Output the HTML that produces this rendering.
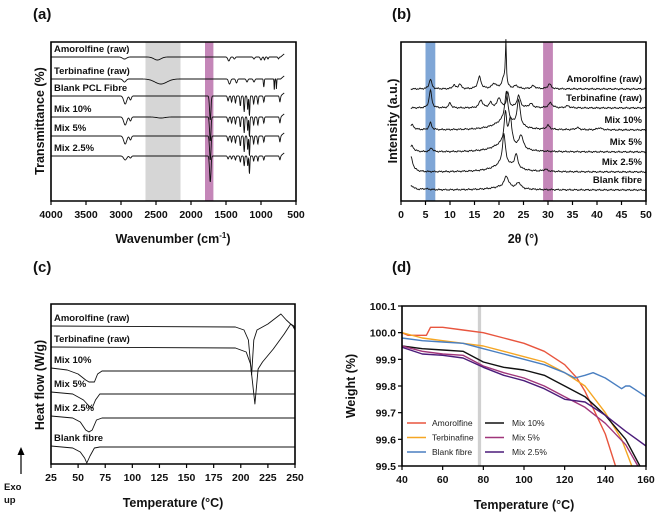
<!DOCTYPE html>
<html><head><meta charset="utf-8"><style>
body{margin:0;background:#fff}
svg{display:block;font-family:"Liberation Sans",Arial,sans-serif}
.t{font-weight:bold;fill:#111}
</style></head><body>
<svg id="fig" width="659" height="516" viewBox="0 0 659 516"></svg>
<script>
// ---------- Panel (a) FTIR data ----------
const ftirNames=["Amorolfine (raw)","Terbinafine (raw)","Blank PCL Fibre","Mix 10%","Mix 5%","Mix 2.5%"];
const ftirOffsets=[144,122,105,84,65,45];
const ftirXTicks=[4000,3500,3000,2500,2000,1500,1000,500];
const pclPeaks=[[2940,8,30],[2865,4,18],[1725,24,14],[1470,5,12],[1420,6,10],[1365,7,10],[1295,10,10],[1240,16,9],[1190,14,8],[1165,20,8],[1105,8,10],[1045,8,10],[960,6,10],[730,6,10]];
const ftirPeaks=[
 [[2950,2,40],[2480,3,70],[1460,4,20],[1380,2,15],[1100,2,15],[1000,3,15],[950,3,10],[900,2,10],[750,2,10]],
 [[2950,3,30],[2430,5,120],[1450,5,20],[1350,4,15],[1200,3,15],[1100,3,15],[960,8,8],[810,12,5],[780,10,5]],
 pclPeaks,
 pclPeaks.concat([[2430,1,80]]),
 pclPeaks,
 [[2940,4,30],[2865,2,18],[1725,26,14],[1470,3,12],[1420,3,10],[1365,4,10],[1295,6,10],[1240,10,9],[1190,10,8],[1165,18,8],[1105,5,10],[1045,5,10],[960,4,10],[730,4,10]]
];
// ---------- Panel (b) XRD data ----------
const xrdNames=["Amorolfine (raw)","Terbinafine (raw)","Mix 10%","Mix 5%","Mix 2.5%","Blank fibre"];
const xrdOffsets=[112,93,71,49,29,11];
const xrdXTicks=[0,5,10,15,20,25,30,35,40,45,50];
const xrdPeaks=[
 [[6,10,0.3],[10.8,4,0.3],[12,5,0.3],[16,12,0.4],[19,5,0.5],[21,10,0.5],[21.4,44,0.12],[23.5,3,0.5],[27,3,0.5],[30.3,5,0.4]],
 [[6,18,0.3],[10,5,0.3],[16.3,8,0.4],[18.3,5,0.4],[20,10,0.4],[21.8,15,0.3],[24,12,0.4],[26.5,4,0.5],[30.5,5,0.5],[34,2,0.5]],
 [[2.2,5,0.5],[6,7,0.3],[21.5,30,0.4],[21,8,2.5],[24,26,0.4],[30,4,0.4],[36,2,0.5],[40.5,2,0.5]],
 [[2.2,6,0.5],[6.2,4,0.3],[21.3,30,0.3],[22.3,26,0.4],[21,8,2.5],[24.5,14,0.5]],
 [[2,15,0.5],[21,30,0.35],[21,8,2.5],[23.5,14,0.4],[29.5,2,0.5]],
 [[2.2,4,0.5],[5,1,1],[21.5,11,0.5],[21,3,3],[24,6,0.5]]
];
// ---------- Panel (c) DSC data ----------
const dscNames=["Amorolfine (raw)","Terbinafine (raw)","Mix 10%","Mix 5%","Mix 2.5%","Blank fibre"];
const dscXTicks=[25,50,75,100,125,150,175,200,225,250];
const dscT=[
 [25,195,203,207,210,212,215,225,237,242,248,250],
 [25,195,205,209,213,216,220,230,240,246,249,250],
 [25,40,50,57,60,65,68,72,250],
 [25,45,55,60,63,66,70,250],
 [25,45,52,57,60,63,67,72,250],
 [25,45,52,56,58,61,65,70,250]
];
const dscH=[
 [138,137,134,124,89,124,134,140,150,144,138,134],
 [117,116,112,100,60,95,102,115,130,140,138,134],
 [96,94,90,84,82,82,90,93,93],
 [72,70,64,58,56,64,70,70],
 [48,46,42,34,32,34,44,46,46],
 [18,16,12,6,1,8,16,17,17]
];
// ---------- Panel (d) TGA data ----------
const tgaNames=["Amorolfine","Terbinafine","Blank fibre","Mix 10%","Mix 5%","Mix 2.5%"];
const tgaColors=["#e8553e","#f5a623","#4a7fc1","#111111","#a0357a","#4b1c7a"];
const tgaYTicks=[99.5,99.6,99.7,99.8,99.9,100.0,100.1];
const tgaXTicks=[40,60,80,100,120,140,160];
const tgaT=[
 [40,43,52,54,60,70,80,90,100,110,120,126,130,135,140,145],
 [40,50,60,70,80,90,100,110,120,130,140,148,153],
 [40,50,60,70,80,90,100,110,120,125,130,134,140,148,150,152,156,160],
 [40,50,60,70,80,90,100,110,120,130,140,150,157],
 [40,50,60,70,80,90,100,110,120,130,140,150,156],
 [40,50,60,70,80,90,100,110,120,130,140,150,160]
];
const tgaW=[
 [100.0,99.99,99.99,100.02,100.02,100.01,100.0,99.98,99.96,99.93,99.88,99.83,99.78,99.70,99.62,99.5],
 [100.0,99.98,99.97,99.96,99.95,99.93,99.91,99.89,99.85,99.80,99.70,99.6,99.5],
 [99.98,99.97,99.965,99.96,99.94,99.92,99.90,99.88,99.85,99.83,99.84,99.85,99.83,99.79,99.80,99.80,99.78,99.76],
 [99.95,99.94,99.935,99.93,99.89,99.87,99.86,99.84,99.80,99.76,99.69,99.60,99.5],
 [99.95,99.93,99.92,99.915,99.875,99.85,99.83,99.80,99.76,99.72,99.66,99.58,99.5],
 [99.945,99.92,99.915,99.905,99.87,99.84,99.82,99.79,99.75,99.74,99.69,99.63,99.575]
];

const NS="http://www.w3.org/2000/svg";
const svg=document.getElementById('fig');
function el(tag,attrs,parent,txt){const e=document.createElementNS(NS,tag);for(const k in attrs)e.setAttribute(k,attrs[k]);if(txt!==undefined)e.textContent=txt;(parent||svg).appendChild(e);return e;}
function lin(d0,d1,r0,r1){return v=>r0+(v-d0)*(r1-r0)/(d1-d0);}
function frame(g,x0,y0,x1,y1){
 el('path',{d:`M${x0},${y0}H${x1}V${y1}H${x0}Z`,fill:'none',stroke:'#000','stroke-width':1.6},g);
}
function xTicks(g,ticks,sx,y1,name){
 ticks.forEach(t=>{
  const x=sx(t);
  el('line',{x1:x,x2:x,y1:y1,y2:y1+4,stroke:'#000','stroke-width':1.2},g);
  const tx=el('text',{x:x,y:y1+17,'text-anchor':'middle','font-size':10.5,class:'t'},g,t);
  
  
 });
}

// ===== Panel A =====
{
const g=el('g',{});
const X0=51,X1=296,Y0=42,Y1=201;
const sx=lin(4000,500,X0,X1), sy=lin(0,159,Y1,Y0);
el('rect',{x:sx(2650),y:Y0,width:sx(2150)-sx(2650),height:Y1-Y0,fill:'#d6d6d6'},g);
el('rect',{x:sx(1800),y:Y0,width:sx(1680)-sx(1800),height:Y1-Y0,fill:'#c486b8'},g);
ftirNames.forEach((n,i)=>{
 let d='';
 for(let w=4000;w>=665;w-=4){
  let v=ftirOffsets[i];
  ftirPeaks[i].forEach(p=>{v-=p[1]*Math.exp(-Math.pow((w-p[0])/p[2],2));});
  if(w<720)v+= (720-w)*0.06;
  d+=(w===4000?'M':'L')+sx(w).toFixed(1)+','+sy(v).toFixed(1);
 }
 const p=el('path',{d:d,fill:'none',stroke:'#111','stroke-width':0.9},g);
 
 
 const t=el('text',{x:54,y:sy(ftirOffsets[i])-5,'font-size':9.5,class:'t'},g,n);
 
 
});
frame(g,X0,Y0,X1,Y1);
xTicks(g,ftirXTicks,sx,Y1,'ftir-x');
el('text',{x:173,y:243,'text-anchor':'middle','font-size':12.5,class:'t',},g).innerHTML='Wavenumber (cm<tspan dy="-5" font-size="8">-1</tspan><tspan dy="5">)</tspan>';
el('text',{transform:'translate(44,121) rotate(-90)','text-anchor':'middle','font-size':12.5,class:'t',},g,'Transmittance (%)');
el('text',{x:33,y:19,'font-size':15,class:'t',},g,'(a)');
}

// ===== Panel B =====
{
const g=el('g',{});
const X0=401,X1=646,Y0=42,Y1=201;
const sx=lin(0,50,X0,X1), sy=lin(0,159,Y1,Y0);
el('rect',{x:sx(5),y:Y0,width:sx(7)-sx(5),height:Y1-Y0,fill:'#7fa6d6'},g);
el('rect',{x:sx(29),y:Y0,width:sx(31)-sx(29),height:Y1-Y0,fill:'#c486b8'},g);
xrdNames.forEach((n,i)=>{
 let d='';
 for(let a=2;a<=50.001;a+=0.1){
  let v=xrdOffsets[i];
  xrdPeaks[i].forEach(p=>{v+=p[1]/(1+Math.pow((a-p[0])/p[2],2));});
  v+=0.8*Math.sin(a*9.3+i)*Math.cos(a*4.1);
  d+=(a===2?'M':'L')+sx(a).toFixed(1)+','+sy(v).toFixed(1);
 }
 const p=el('path',{d:d,fill:'none',stroke:'#111','stroke-width':0.9},g);
 
 
 const t=el('text',{x:642,y:sy(xrdOffsets[i])-7,'text-anchor':'end','font-size':9.5,class:'t'},g,n);
 
 
});
frame(g,X0,Y0,X1,Y1);
xTicks(g,xrdXTicks,sx,Y1,'xrd-x');
el('text',{x:523,y:243,'text-anchor':'middle','font-size':12.5,class:'t',},g,'2θ (°)');
el('text',{transform:'translate(397,121) rotate(-90)','text-anchor':'middle','font-size':12.5,class:'t',},g,'Intensity (a.u.)');
el('text',{x:392,y:19,'font-size':15,class:'t',},g,'(b)');
}

// ===== Panel C =====
{
const g=el('g',{});
const X0=51,X1=295,Y0=304,Y1=464;
const sx=lin(25,250,X0,X1), sy=lin(0,160,Y1,Y0);
dscNames.forEach((n,i)=>{
 let d='';
 dscT[i].forEach((t,j)=>{d+=(j?'L':'M')+sx(t).toFixed(1)+','+sy(dscH[i][j]).toFixed(1);});
 const p=el('path',{d:d,fill:'none',stroke:'#111','stroke-width':0.9,'stroke-linejoin':'round'},g);
 
 
 const t=el('text',{x:54,y:sy(dscH[i][0])-5,'font-size':9.5,class:'t'},g,n);
 
 
});
frame(g,X0,Y0,X1,Y1);
xTicks(g,dscXTicks,sx,Y1,'dsc-x');
el('text',{x:173,y:507,'text-anchor':'middle','font-size':12.5,class:'t',},g,'Temperature (°C)');
el('text',{transform:'translate(44,385) rotate(-90)','text-anchor':'middle','font-size':12.5,class:'t',},g,'Heat flow  (W/g)');
el('path',{d:'M21,474V452',stroke:'#000','stroke-width':1.2,},g);
el('path',{d:'M17.5,455L21,447L24.5,455Z',fill:'#000'},g);
el('text',{x:4,y:490,'font-size':9.5,class:'t',},g,'Exo');
el('text',{x:4,y:503,'font-size':9.5,class:'t',},g,'up');
el('text',{x:33,y:272,'font-size':15,class:'t',},g,'(c)');
}

// ===== Panel D =====
{
const g=el('g',{});
const X0=402,X1=646,Y0=306,Y1=466;
const sx=lin(40,160,X0,X1), sy=lin(99.5,100.1,Y1,Y0);
el('rect',{x:sx(77.3),y:Y0,width:sx(78.9)-sx(77.3),height:Y1-Y0,fill:'#d0d0d0'},g);
const cp=el('clipPath',{id:'cd'},g);el('rect',{x:X0,y:Y0,width:X1-X0,height:Y1-Y0},cp);
tgaNames.forEach((n,i)=>{
 let d='';
 tgaT[i].forEach((t,j)=>{d+=(j?'L':'M')+sx(t).toFixed(1)+','+sy(tgaW[i][j]).toFixed(1);});
 const p=el('path',{d:d,fill:'none',stroke:tgaColors[i],'stroke-width':1.4,'clip-path':'url(#cd)','stroke-linejoin':'round'},g);
 
 
 const col=i<3?0:1, row=i%3;
 const lx=col?485:407, ly=423+row*14.5;
 const lg=el('g',{},g);
 
 
 el('line',{x1:lx,x2:lx+19,y1:ly,y2:ly,stroke:tgaColors[i],'stroke-width':1.6},lg);
 el('text',{x:lx+(col?27:25),y:ly+3,'font-size':8.5,fill:'#222'},lg,n);
});
frame(g,X0,Y0,X1,Y1);
tgaYTicks.forEach(t=>{
 const y=sy(t);
 el('line',{x1:X0-4,x2:X0,y1:y,y2:y,stroke:'#000','stroke-width':1.2},g);
 const tx=el('text',{x:X0-6,y:y+4,'text-anchor':'end','font-size':10.5,class:'t'},g,t.toFixed(1));
 
 
});
xTicks(g,tgaXTicks,sx,Y1,'tga-x');
el('text',{x:524,y:509,'text-anchor':'middle','font-size':12.5,class:'t',},g,'Temperature  (°C)');
el('text',{transform:'translate(355,386) rotate(-90)','text-anchor':'middle','font-size':12.5,class:'t',},g,'Weight (%)');
el('text',{x:392,y:272,'font-size':15,class:'t',},g,'(d)');
}
</script>
</body></html>
